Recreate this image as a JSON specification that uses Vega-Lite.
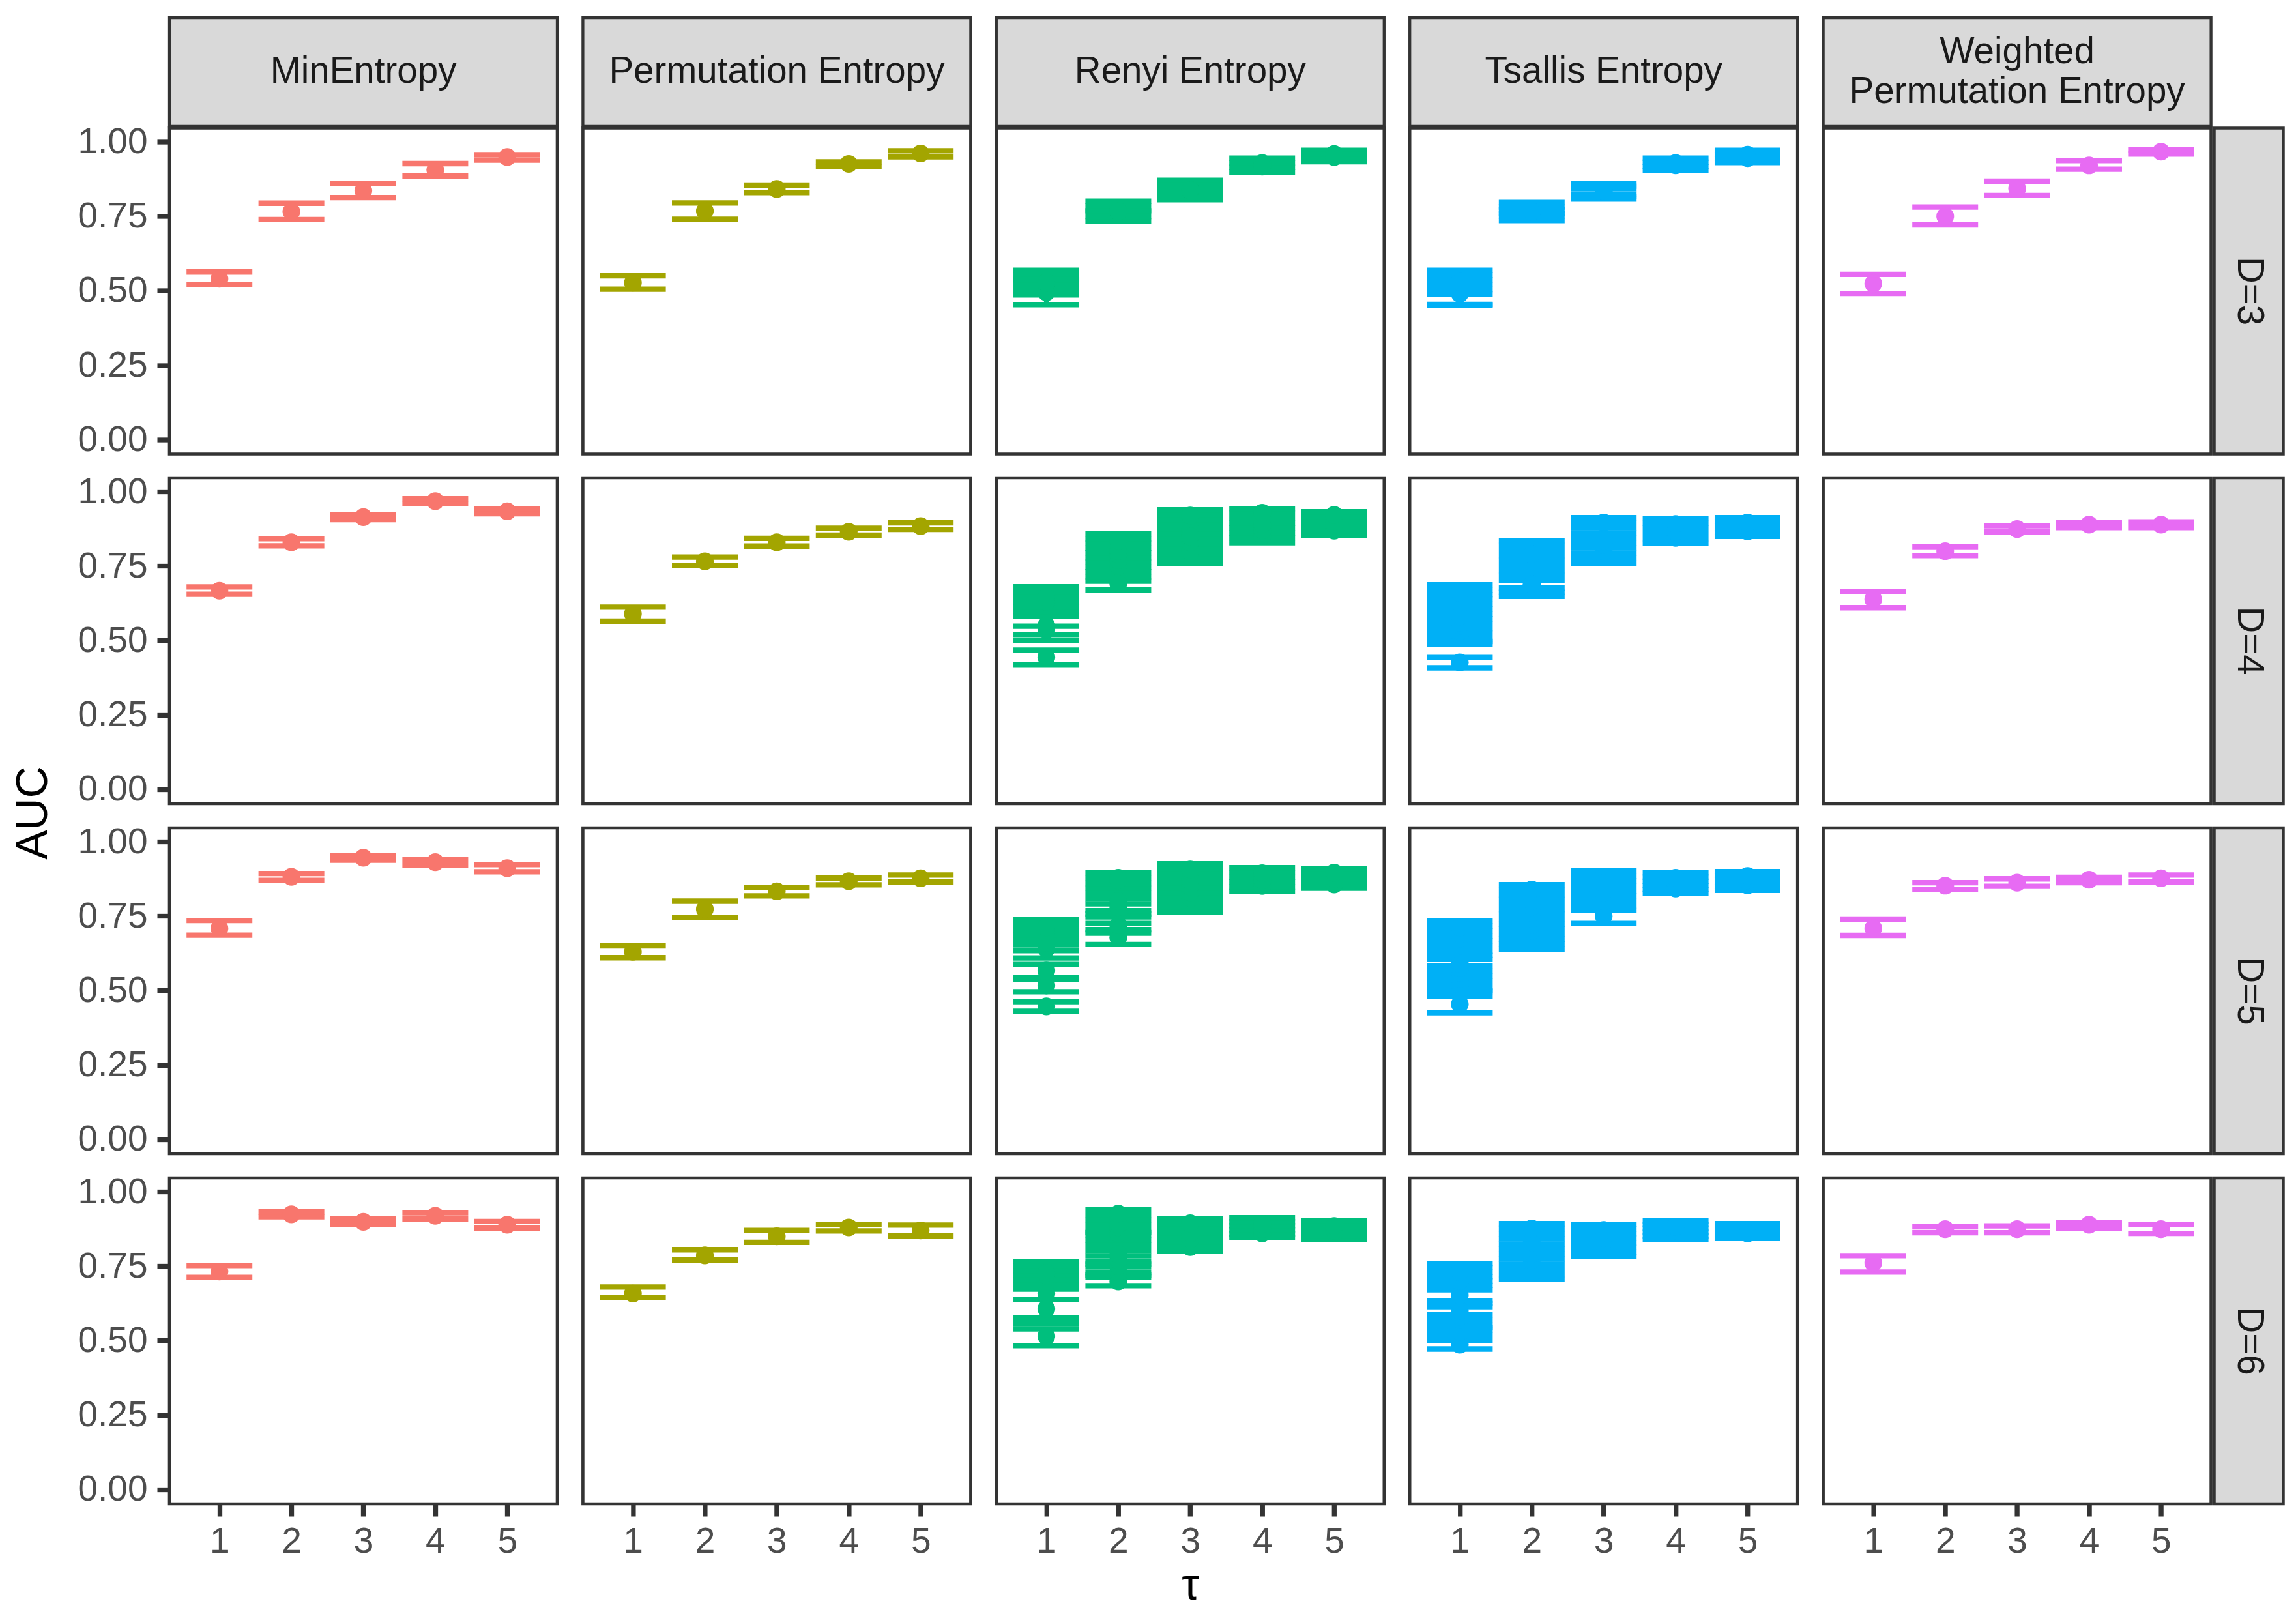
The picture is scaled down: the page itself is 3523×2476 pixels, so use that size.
{
"$schema":"https://vega.github.io/schema/vega-lite/v6.json",
"background":"white",
"padding":{"left":17,"top":24,"right":4,"bottom":0},
"title":{"text":"AUC","orient":"left","anchor":"middle","fontSize":68,"font":"Liberation Sans","fontWeight":"normal","color":"#000000","offset":31},
"config":{
 "view":{"stroke":"#333333","strokeWidth":4.6},
 "axis":{"labelFont":"Liberation Sans","labelFontSize":55,"labelColor":"#4D4D4D","tickColor":"#333333","tickWidth":7.3,"tickSize":19,"domain":false,"grid":false,"labelFlush":false,"titleFont":"Liberation Sans","titleFontSize":68,"titleFontWeight":"normal","titleColor":"#000000"},
 "axisY":{"labelPadding":15},
 "axisX":{"labelPadding":12,"titlePadding":7},
 "rule":{"strokeWidth":7.3},
 "tick":{"thickness":8.3,"opacity":1},
 "circle":{"size":740,"opacity":1},
 "text":{"font":"Liberation Sans","fontSize":56.5,"color":"#1A1A1A"}
},
"datasets":{"auc":[
{"m":"Min","D":3,"tau":1,"auc":0.540,"lo":0.520,"hi":0.563},
{"m":"Min","D":3,"tau":2,"auc":0.766,"lo":0.739,"hi":0.794},
{"m":"Min","D":3,"tau":3,"auc":0.836,"lo":0.813,"hi":0.860},
{"m":"Min","D":3,"tau":4,"auc":0.906,"lo":0.885,"hi":0.927},
{"m":"Min","D":3,"tau":5,"auc":0.949,"lo":0.939,"hi":0.957},
{"m":"Min","D":4,"tau":1,"auc":0.667,"lo":0.655,"hi":0.680},
{"m":"Min","D":4,"tau":2,"auc":0.830,"lo":0.818,"hi":0.842},
{"m":"Min","D":4,"tau":3,"auc":0.914,"lo":0.906,"hi":0.922},
{"m":"Min","D":4,"tau":4,"auc":0.968,"lo":0.960,"hi":0.976},
{"m":"Min","D":4,"tau":5,"auc":0.934,"lo":0.926,"hi":0.942},
{"m":"Min","D":5,"tau":1,"auc":0.709,"lo":0.686,"hi":0.735},
{"m":"Min","D":5,"tau":2,"auc":0.882,"lo":0.870,"hi":0.893},
{"m":"Min","D":5,"tau":3,"auc":0.946,"lo":0.938,"hi":0.953},
{"m":"Min","D":5,"tau":4,"auc":0.931,"lo":0.922,"hi":0.940},
{"m":"Min","D":5,"tau":5,"auc":0.911,"lo":0.899,"hi":0.923},
{"m":"Min","D":6,"tau":1,"auc":0.732,"lo":0.712,"hi":0.752},
{"m":"Min","D":6,"tau":2,"auc":0.924,"lo":0.916,"hi":0.932},
{"m":"Min","D":6,"tau":3,"auc":0.899,"lo":0.889,"hi":0.909},
{"m":"Min","D":6,"tau":4,"auc":0.919,"lo":0.909,"hi":0.929},
{"m":"Min","D":6,"tau":5,"auc":0.889,"lo":0.878,"hi":0.900},
{"m":"Perm","D":3,"tau":1,"auc":0.527,"lo":0.505,"hi":0.550},
{"m":"Perm","D":3,"tau":2,"auc":0.768,"lo":0.740,"hi":0.795},
{"m":"Perm","D":3,"tau":3,"auc":0.842,"lo":0.830,"hi":0.855},
{"m":"Perm","D":3,"tau":4,"auc":0.926,"lo":0.918,"hi":0.933},
{"m":"Perm","D":3,"tau":5,"auc":0.961,"lo":0.950,"hi":0.970},
{"m":"Perm","D":4,"tau":1,"auc":0.589,"lo":0.565,"hi":0.612},
{"m":"Perm","D":4,"tau":2,"auc":0.766,"lo":0.752,"hi":0.780},
{"m":"Perm","D":4,"tau":3,"auc":0.830,"lo":0.817,"hi":0.843},
{"m":"Perm","D":4,"tau":4,"auc":0.865,"lo":0.854,"hi":0.877},
{"m":"Perm","D":4,"tau":5,"auc":0.884,"lo":0.873,"hi":0.895},
{"m":"Perm","D":5,"tau":1,"auc":0.630,"lo":0.610,"hi":0.650},
{"m":"Perm","D":5,"tau":2,"auc":0.773,"lo":0.745,"hi":0.800},
{"m":"Perm","D":5,"tau":3,"auc":0.833,"lo":0.818,"hi":0.847},
{"m":"Perm","D":5,"tau":4,"auc":0.867,"lo":0.855,"hi":0.878},
{"m":"Perm","D":5,"tau":5,"auc":0.877,"lo":0.865,"hi":0.888},
{"m":"Perm","D":6,"tau":1,"auc":0.658,"lo":0.645,"hi":0.680},
{"m":"Perm","D":6,"tau":2,"auc":0.786,"lo":0.770,"hi":0.805},
{"m":"Perm","D":6,"tau":3,"auc":0.850,"lo":0.830,"hi":0.870},
{"m":"Perm","D":6,"tau":4,"auc":0.880,"lo":0.868,"hi":0.890},
{"m":"Perm","D":6,"tau":5,"auc":0.870,"lo":0.852,"hi":0.888},
{"m":"WPE","D":3,"tau":1,"auc":0.524,"lo":0.491,"hi":0.555},
{"m":"WPE","D":3,"tau":2,"auc":0.750,"lo":0.721,"hi":0.781},
{"m":"WPE","D":3,"tau":3,"auc":0.843,"lo":0.820,"hi":0.868},
{"m":"WPE","D":3,"tau":4,"auc":0.921,"lo":0.908,"hi":0.937},
{"m":"WPE","D":3,"tau":5,"auc":0.967,"lo":0.959,"hi":0.974},
{"m":"WPE","D":4,"tau":1,"auc":0.638,"lo":0.610,"hi":0.665},
{"m":"WPE","D":4,"tau":2,"auc":0.800,"lo":0.785,"hi":0.815},
{"m":"WPE","D":4,"tau":3,"auc":0.874,"lo":0.865,"hi":0.885},
{"m":"WPE","D":4,"tau":4,"auc":0.889,"lo":0.879,"hi":0.897},
{"m":"WPE","D":4,"tau":5,"auc":0.889,"lo":0.879,"hi":0.898},
{"m":"WPE","D":5,"tau":1,"auc":0.709,"lo":0.685,"hi":0.740},
{"m":"WPE","D":5,"tau":2,"auc":0.852,"lo":0.840,"hi":0.862},
{"m":"WPE","D":5,"tau":3,"auc":0.862,"lo":0.850,"hi":0.875},
{"m":"WPE","D":5,"tau":4,"auc":0.872,"lo":0.862,"hi":0.880},
{"m":"WPE","D":5,"tau":5,"auc":0.877,"lo":0.865,"hi":0.888},
{"m":"WPE","D":6,"tau":1,"auc":0.761,"lo":0.730,"hi":0.785},
{"m":"WPE","D":6,"tau":2,"auc":0.874,"lo":0.862,"hi":0.882},
{"m":"WPE","D":6,"tau":3,"auc":0.874,"lo":0.862,"hi":0.885},
{"m":"WPE","D":6,"tau":4,"auc":0.889,"lo":0.878,"hi":0.897},
{"m":"WPE","D":6,"tau":5,"auc":0.874,"lo":0.860,"hi":0.890},
{"m":"Renyi","D":3,"tau":1,"auc":0.495,"lo":0.4531,"hi":0.5365},
{"m":"Renyi","D":3,"tau":1,"auc":0.527,"lo":0.4861,"hi":0.5686},
{"m":"Renyi","D":3,"tau":1,"auc":0.527,"lo":0.5016,"hi":0.5531},
{"m":"Renyi","D":3,"tau":1,"auc":0.527,"lo":0.5200,"hi":0.5376},
{"m":"Renyi","D":3,"tau":2,"auc":0.767,"lo":0.7336,"hi":0.8007},
{"m":"Renyi","D":3,"tau":2,"auc":0.767,"lo":0.7496,"hi":0.7847},
{"m":"Renyi","D":3,"tau":2,"auc":0.767,"lo":0.7656,"hi":0.7687},
{"m":"Renyi","D":3,"tau":3,"auc":0.838,"lo":0.8058,"hi":0.8708},
{"m":"Renyi","D":3,"tau":3,"auc":0.838,"lo":0.8218,"hi":0.8548},
{"m":"Renyi","D":3,"tau":3,"auc":0.838,"lo":0.8340,"hi":0.8420},
{"m":"Renyi","D":3,"tau":4,"auc":0.929,"lo":0.8985,"hi":0.9452},
{"m":"Renyi","D":3,"tau":4,"auc":0.9167,"lo":0.9145,"hi":0.9300},
{"m":"Renyi","D":3,"tau":5,"auc":0.959,"lo":0.9336,"hi":0.9714},
{"m":"Renyi","D":3,"tau":5,"auc":0.949,"lo":0.9466,"hi":0.9586},
{"m":"Renyi","D":4,"tau":1,"auc":0.4438,"lo":0.4193,"hi":0.4671},
{"m":"Renyi","D":4,"tau":1,"auc":0.5357,"lo":0.5003,"hi":0.5975},
{"m":"Renyi","D":4,"tau":1,"auc":0.5503,"lo":0.5200,"hi":0.6126},
{"m":"Renyi","D":4,"tau":1,"auc":0.6379,"lo":0.5481,"hi":0.6459},
{"m":"Renyi","D":4,"tau":1,"auc":0.630,"lo":0.5824,"hi":0.6802},
{"m":"Renyi","D":4,"tau":1,"auc":0.645,"lo":0.6277,"hi":0.6630},
{"m":"Renyi","D":4,"tau":2,"auc":0.6912,"lo":0.6697,"hi":0.7150},
{"m":"Renyi","D":4,"tau":2,"auc":0.750,"lo":0.6992,"hi":0.7942},
{"m":"Renyi","D":4,"tau":2,"auc":0.770,"lo":0.7309,"hi":0.8101},
{"m":"Renyi","D":4,"tau":2,"auc":0.790,"lo":0.7467,"hi":0.8259},
{"m":"Renyi","D":4,"tau":2,"auc":0.800,"lo":0.7626,"hi":0.8418},
{"m":"Renyi","D":4,"tau":2,"auc":0.836,"lo":0.7784,"hi":0.8576},
{"m":"Renyi","D":4,"tau":3,"auc":0.800,"lo":0.7598,"hi":0.8736},
{"m":"Renyi","D":4,"tau":3,"auc":0.830,"lo":0.7761,"hi":0.8898},
{"m":"Renyi","D":4,"tau":3,"auc":0.850,"lo":0.7923,"hi":0.9061},
{"m":"Renyi","D":4,"tau":3,"auc":0.870,"lo":0.8086,"hi":0.9223},
{"m":"Renyi","D":4,"tau":3,"auc":0.9197,"lo":0.8248,"hi":0.9386},
{"m":"Renyi","D":4,"tau":3,"auc":0.850,"lo":0.8411,"hi":0.8573},
{"m":"Renyi","D":4,"tau":4,"auc":0.851,"lo":0.8284,"hi":0.8939},
{"m":"Renyi","D":4,"tau":4,"auc":0.870,"lo":0.8448,"hi":0.9103},
{"m":"Renyi","D":4,"tau":4,"auc":0.890,"lo":0.8612,"hi":0.9266},
{"m":"Renyi","D":4,"tau":4,"auc":0.9291,"lo":0.8775,"hi":0.9430},
{"m":"Renyi","D":4,"tau":5,"auc":0.8686,"lo":0.8518,"hi":0.9000},
{"m":"Renyi","D":4,"tau":5,"auc":0.890,"lo":0.8679,"hi":0.9161},
{"m":"Renyi","D":4,"tau":5,"auc":0.9218,"lo":0.8839,"hi":0.9321},
{"m":"Renyi","D":5,"tau":1,"auc":0.4467,"lo":0.4303,"hi":0.4627},
{"m":"Renyi","D":5,"tau":1,"auc":0.5168,"lo":0.4959,"hi":0.5445},
{"m":"Renyi","D":5,"tau":1,"auc":0.5671,"lo":0.5372,"hi":0.5875},
{"m":"Renyi","D":5,"tau":1,"auc":0.640,"lo":0.6094,"hi":0.6700},
{"m":"Renyi","D":5,"tau":1,"auc":0.660,"lo":0.6339,"hi":0.6868},
{"m":"Renyi","D":5,"tau":1,"auc":0.695,"lo":0.6532,"hi":0.7372},
{"m":"Renyi","D":5,"tau":1,"auc":0.712,"lo":0.7036,"hi":0.7204},
{"m":"Renyi","D":5,"tau":2,"auc":0.6781,"lo":0.6547,"hi":0.7043},
{"m":"Renyi","D":5,"tau":2,"auc":0.720,"lo":0.6927,"hi":0.7474},
{"m":"Renyi","D":5,"tau":2,"auc":0.760,"lo":0.7255,"hi":0.7912},
{"m":"Renyi","D":5,"tau":2,"auc":0.780,"lo":0.7576,"hi":0.8085},
{"m":"Renyi","D":5,"tau":2,"auc":0.800,"lo":0.7678,"hi":0.8257},
{"m":"Renyi","D":5,"tau":2,"auc":0.8788,"lo":0.8430,"hi":0.8948},
{"m":"Renyi","D":5,"tau":2,"auc":0.870,"lo":0.8603,"hi":0.8775},
{"m":"Renyi","D":5,"tau":3,"auc":0.7832,"lo":0.7642,"hi":0.8448},
{"m":"Renyi","D":5,"tau":3,"auc":0.810,"lo":0.7803,"hi":0.8610},
{"m":"Renyi","D":5,"tau":3,"auc":0.830,"lo":0.7964,"hi":0.8771},
{"m":"Renyi","D":5,"tau":3,"auc":0.850,"lo":0.8126,"hi":0.8932},
{"m":"Renyi","D":5,"tau":3,"auc":0.870,"lo":0.8287,"hi":0.9094},
{"m":"Renyi","D":5,"tau":3,"auc":0.9065,"lo":0.8529,"hi":0.9255},
{"m":"Renyi","D":5,"tau":4,"auc":0.851,"lo":0.8321,"hi":0.8802},
{"m":"Renyi","D":5,"tau":4,"auc":0.870,"lo":0.8481,"hi":0.8963},
{"m":"Renyi","D":5,"tau":4,"auc":0.8941,"lo":0.8642,"hi":0.9123},
{"m":"Renyi","D":5,"tau":5,"auc":0.8561,"lo":0.8437,"hi":0.8835},
{"m":"Renyi","D":5,"tau":5,"auc":0.875,"lo":0.8570,"hi":0.8968},
{"m":"Renyi","D":5,"tau":5,"auc":0.8963,"lo":0.8703,"hi":0.9101},
{"m":"Renyi","D":6,"tau":1,"auc":0.5146,"lo":0.4828,"hi":0.5394},
{"m":"Renyi","D":6,"tau":1,"auc":0.6065,"lo":0.5573,"hi":0.6383},
{"m":"Renyi","D":6,"tau":1,"auc":0.6583,"lo":0.5751,"hi":0.7038},
{"m":"Renyi","D":6,"tau":1,"auc":0.720,"lo":0.6729,"hi":0.7656},
{"m":"Renyi","D":6,"tau":1,"auc":0.720,"lo":0.6884,"hi":0.7502},
{"m":"Renyi","D":6,"tau":1,"auc":0.727,"lo":0.7193,"hi":0.7347},
{"m":"Renyi","D":6,"tau":2,"auc":0.6985,"lo":0.6843,"hi":0.7204},
{"m":"Renyi","D":6,"tau":2,"auc":0.730,"lo":0.7124,"hi":0.7565},
{"m":"Renyi","D":6,"tau":2,"auc":0.750,"lo":0.7284,"hi":0.7846},
{"m":"Renyi","D":6,"tau":2,"auc":0.770,"lo":0.7474,"hi":0.8020},
{"m":"Renyi","D":6,"tau":2,"auc":0.790,"lo":0.7656,"hi":0.8193},
{"m":"Renyi","D":6,"tau":2,"auc":0.860,"lo":0.8367,"hi":0.8888},
{"m":"Renyi","D":6,"tau":2,"auc":0.880,"lo":0.8540,"hi":0.9061},
{"m":"Renyi","D":6,"tau":2,"auc":0.890,"lo":0.8627,"hi":0.9235},
{"m":"Renyi","D":6,"tau":2,"auc":0.9262,"lo":0.8714,"hi":0.9408},
{"m":"Renyi","D":6,"tau":3,"auc":0.8138,"lo":0.7992,"hi":0.8614},
{"m":"Renyi","D":6,"tau":3,"auc":0.840,"lo":0.8147,"hi":0.8769},
{"m":"Renyi","D":6,"tau":3,"auc":0.860,"lo":0.8303,"hi":0.8925},
{"m":"Renyi","D":6,"tau":3,"auc":0.8941,"lo":0.8458,"hi":0.9080},
{"m":"Renyi","D":6,"tau":4,"auc":0.8598,"lo":0.8452,"hi":0.8855},
{"m":"Renyi","D":6,"tau":4,"auc":0.875,"lo":0.8586,"hi":0.8989},
{"m":"Renyi","D":6,"tau":4,"auc":0.8919,"lo":0.8720,"hi":0.9123},
{"m":"Renyi","D":6,"tau":5,"auc":0.862,"lo":0.8394,"hi":0.8779},
{"m":"Renyi","D":6,"tau":5,"auc":0.870,"lo":0.8522,"hi":0.8908},
{"m":"Renyi","D":6,"tau":5,"auc":0.8846,"lo":0.8651,"hi":0.9036},
{"m":"Tsallis","D":3,"tau":1,"auc":0.4941,"lo":0.4507,"hi":0.5365},
{"m":"Tsallis","D":3,"tau":1,"auc":0.490,"lo":0.4540,"hi":0.5204},
{"m":"Tsallis","D":3,"tau":1,"auc":0.530,"lo":0.4883,"hi":0.5686},
{"m":"Tsallis","D":3,"tau":1,"auc":0.530,"lo":0.5044,"hi":0.5525},
{"m":"Tsallis","D":3,"tau":2,"auc":0.766,"lo":0.7358,"hi":0.7963},
{"m":"Tsallis","D":3,"tau":2,"auc":0.766,"lo":0.7509,"hi":0.7812},
{"m":"Tsallis","D":3,"tau":2,"auc":0.766,"lo":0.7600,"hi":0.7720},
{"m":"Tsallis","D":3,"tau":3,"auc":0.834,"lo":0.8080,"hi":0.8598},
{"m":"Tsallis","D":3,"tau":3,"auc":0.834,"lo":0.8164,"hi":0.8514},
{"m":"Tsallis","D":3,"tau":3,"auc":0.834,"lo":0.8248,"hi":0.8430},
{"m":"Tsallis","D":3,"tau":4,"auc":0.9292,"lo":0.9044,"hi":0.9452},
{"m":"Tsallis","D":3,"tau":4,"auc":0.9211,"lo":0.9180,"hi":0.9316},
{"m":"Tsallis","D":3,"tau":5,"auc":0.9569,"lo":0.9306,"hi":0.9714},
{"m":"Tsallis","D":3,"tau":5,"auc":0.9452,"lo":0.9442,"hi":0.9578},
{"m":"Tsallis","D":4,"tau":1,"auc":0.4262,"lo":0.4080,"hi":0.4430},
{"m":"Tsallis","D":4,"tau":1,"auc":0.520,"lo":0.4883,"hi":0.5566},
{"m":"Tsallis","D":4,"tau":1,"auc":0.530,"lo":0.4967,"hi":0.5728},
{"m":"Tsallis","D":4,"tau":1,"auc":0.550,"lo":0.5051,"hi":0.5891},
{"m":"Tsallis","D":4,"tau":1,"auc":0.560,"lo":0.5240,"hi":0.6054},
{"m":"Tsallis","D":4,"tau":1,"auc":0.580,"lo":0.5403,"hi":0.6217},
{"m":"Tsallis","D":4,"tau":1,"auc":0.660,"lo":0.6380,"hi":0.6868},
{"m":"Tsallis","D":4,"tau":1,"auc":0.660,"lo":0.6542,"hi":0.6705},
{"m":"Tsallis","D":4,"tau":2,"auc":0.689,"lo":0.6481,"hi":0.7350},
{"m":"Tsallis","D":4,"tau":2,"auc":0.689,"lo":0.6620,"hi":0.7182},
{"m":"Tsallis","D":4,"tau":2,"auc":0.689,"lo":0.6759,"hi":0.7014},
{"m":"Tsallis","D":4,"tau":2,"auc":0.790,"lo":0.7518,"hi":0.8357},
{"m":"Tsallis","D":4,"tau":2,"auc":0.790,"lo":0.7685,"hi":0.8189},
{"m":"Tsallis","D":4,"tau":2,"auc":0.790,"lo":0.7853,"hi":0.8021},
{"m":"Tsallis","D":4,"tau":3,"auc":0.800,"lo":0.7598,"hi":0.8615},
{"m":"Tsallis","D":4,"tau":3,"auc":0.820,"lo":0.7767,"hi":0.8784},
{"m":"Tsallis","D":4,"tau":3,"auc":0.840,"lo":0.7937,"hi":0.8954},
{"m":"Tsallis","D":4,"tau":3,"auc":0.8963,"lo":0.8106,"hi":0.9123},
{"m":"Tsallis","D":4,"tau":3,"auc":0.836,"lo":0.8276,"hi":0.8445},
{"m":"Tsallis","D":4,"tau":4,"auc":0.8445,"lo":0.8255,"hi":0.8763},
{"m":"Tsallis","D":4,"tau":4,"auc":0.865,"lo":0.8424,"hi":0.8932},
{"m":"Tsallis","D":4,"tau":4,"auc":0.8912,"lo":0.8593,"hi":0.9101},
{"m":"Tsallis","D":4,"tau":5,"auc":0.8664,"lo":0.8496,"hi":0.8872},
{"m":"Tsallis","D":4,"tau":5,"auc":0.880,"lo":0.8621,"hi":0.8998},
{"m":"Tsallis","D":4,"tau":5,"auc":0.8963,"lo":0.8747,"hi":0.9123},
{"m":"Tsallis","D":5,"tau":1,"auc":0.454,"lo":0.4255,"hi":0.4965},
{"m":"Tsallis","D":5,"tau":1,"auc":0.520,"lo":0.4795,"hi":0.5647},
{"m":"Tsallis","D":5,"tau":1,"auc":0.540,"lo":0.5000,"hi":0.5817},
{"m":"Tsallis","D":5,"tau":1,"auc":0.560,"lo":0.5136,"hi":0.6043},
{"m":"Tsallis","D":5,"tau":1,"auc":0.575,"lo":0.5306,"hi":0.6182},
{"m":"Tsallis","D":5,"tau":1,"auc":0.590,"lo":0.5476,"hi":0.6321},
{"m":"Tsallis","D":5,"tau":1,"auc":0.675,"lo":0.6510,"hi":0.7001},
{"m":"Tsallis","D":5,"tau":1,"auc":0.690,"lo":0.6674,"hi":0.7164},
{"m":"Tsallis","D":5,"tau":1,"auc":0.7116,"lo":0.6837,"hi":0.7328},
{"m":"Tsallis","D":5,"tau":2,"auc":0.700,"lo":0.6394,"hi":0.7557},
{"m":"Tsallis","D":5,"tau":2,"auc":0.720,"lo":0.6560,"hi":0.7723},
{"m":"Tsallis","D":5,"tau":2,"auc":0.740,"lo":0.6726,"hi":0.7889},
{"m":"Tsallis","D":5,"tau":2,"auc":0.760,"lo":0.6892,"hi":0.8056},
{"m":"Tsallis","D":5,"tau":2,"auc":0.780,"lo":0.7059,"hi":0.8222},
{"m":"Tsallis","D":5,"tau":2,"auc":0.800,"lo":0.7225,"hi":0.8388},
{"m":"Tsallis","D":5,"tau":2,"auc":0.8394,"lo":0.7391,"hi":0.8554},
{"m":"Tsallis","D":5,"tau":3,"auc":0.7503,"lo":0.7255,"hi":0.7852},
{"m":"Tsallis","D":5,"tau":3,"auc":0.800,"lo":0.7686,"hi":0.8516},
{"m":"Tsallis","D":5,"tau":3,"auc":0.830,"lo":0.8018,"hi":0.8682},
{"m":"Tsallis","D":5,"tau":3,"auc":0.881,"lo":0.8184,"hi":0.9014},
{"m":"Tsallis","D":5,"tau":3,"auc":0.860,"lo":0.8350,"hi":0.8848},
{"m":"Tsallis","D":5,"tau":4,"auc":0.8423,"lo":0.8255,"hi":0.8671},
{"m":"Tsallis","D":5,"tau":4,"auc":0.860,"lo":0.8394,"hi":0.8809},
{"m":"Tsallis","D":5,"tau":4,"auc":0.8788,"lo":0.8532,"hi":0.8948},
{"m":"Tsallis","D":5,"tau":5,"auc":0.8532,"lo":0.8364,"hi":0.8741},
{"m":"Tsallis","D":5,"tau":5,"auc":0.870,"lo":0.8490,"hi":0.8866},
{"m":"Tsallis","D":5,"tau":5,"auc":0.8846,"lo":0.8615,"hi":0.8992},
{"m":"Tsallis","D":6,"tau":1,"auc":0.4861,"lo":0.4715,"hi":0.5172},
{"m":"Tsallis","D":6,"tau":1,"auc":0.530,"lo":0.5000,"hi":0.5689},
{"m":"Tsallis","D":6,"tau":1,"auc":0.570,"lo":0.5344,"hi":0.6138},
{"m":"Tsallis","D":6,"tau":1,"auc":0.580,"lo":0.5430,"hi":0.6240},
{"m":"Tsallis","D":6,"tau":1,"auc":0.600,"lo":0.5517,"hi":0.6343},
{"m":"Tsallis","D":6,"tau":1,"auc":0.6525,"lo":0.5861,"hi":0.6855},
{"m":"Tsallis","D":6,"tau":1,"auc":0.700,"lo":0.6708,"hi":0.7297},
{"m":"Tsallis","D":6,"tau":1,"auc":0.730,"lo":0.7002,"hi":0.7591},
{"m":"Tsallis","D":6,"tau":1,"auc":0.730,"lo":0.7150,"hi":0.7444},
{"m":"Tsallis","D":6,"tau":2,"auc":0.7262,"lo":0.7051,"hi":0.8074},
{"m":"Tsallis","D":6,"tau":2,"auc":0.770,"lo":0.7221,"hi":0.8244},
{"m":"Tsallis","D":6,"tau":2,"auc":0.790,"lo":0.7392,"hi":0.8415},
{"m":"Tsallis","D":6,"tau":2,"auc":0.810,"lo":0.7562,"hi":0.8585},
{"m":"Tsallis","D":6,"tau":2,"auc":0.830,"lo":0.7733,"hi":0.8756},
{"m":"Tsallis","D":6,"tau":2,"auc":0.8766,"lo":0.7903,"hi":0.8926},
{"m":"Tsallis","D":6,"tau":3,"auc":0.810,"lo":0.7817,"hi":0.8439},
{"m":"Tsallis","D":6,"tau":3,"auc":0.830,"lo":0.7972,"hi":0.8594},
{"m":"Tsallis","D":6,"tau":3,"auc":0.845,"lo":0.8128,"hi":0.8750},
{"m":"Tsallis","D":6,"tau":3,"auc":0.8715,"lo":0.8283,"hi":0.8905},
{"m":"Tsallis","D":6,"tau":4,"auc":0.860,"lo":0.8386,"hi":0.8763},
{"m":"Tsallis","D":6,"tau":4,"auc":0.870,"lo":0.8512,"hi":0.8888},
{"m":"Tsallis","D":6,"tau":4,"auc":0.8824,"lo":0.8637,"hi":0.9014},
{"m":"Tsallis","D":6,"tau":5,"auc":0.8715,"lo":0.8430,"hi":0.8926},
{"m":"Tsallis","D":6,"tau":5,"auc":0.8598,"lo":0.8595,"hi":0.8761}
]},
"spacing":19,
"vconcat":[
{"spacing":33.4,"hconcat":[
 {"bounds":"flush","spacing":3.5,"vconcat":[
  {"width":595,"height":166,"view":{"fill":"#D9D9D9","stroke":"#333333","strokeWidth":4.3},"data":{"values":[{"label":"MinEntropy"}]},"mark":{"type":"text"},"encoding":{"text":{"field":"label"}}},
  {"width":595,"height":500,"data":{"name":"auc"},"transform":[{"filter":"datum.m=='Min'&&datum.D==3"}],
   "encoding":{"x":{"field":"tau","type":"quantitative","scale":{"domain":[0.305,5.695],"nice":false,"zero":false},"axis":null},"y":{"field":"auc","type":"quantitative","scale":{"domain":[-0.0486,1.0464],"nice":false,"zero":false},"axis":{"values":[0,0.25,0.5,0.75,1],"format":".2f","title":null}}},
   "layer":[{"mark":{"type":"rule","color":"#F8766D"},"encoding":{"y":{"field":"lo","type":"quantitative","axis":{"values":[0,0.25,0.5,0.75,1],"format":".2f","title":null}},"y2":{"field":"hi"}}},{"mark":{"type":"tick","orient":"horizontal","size":101,"color":"#F8766D"},"encoding":{"y":{"field":"lo","type":"quantitative","axis":{"values":[0,0.25,0.5,0.75,1],"format":".2f","title":null}}}},{"mark":{"type":"tick","orient":"horizontal","size":101,"color":"#F8766D"},"encoding":{"y":{"field":"hi","type":"quantitative","axis":{"values":[0,0.25,0.5,0.75,1],"format":".2f","title":null}}}},{"mark":{"type":"circle","color":"#F8766D"}}]}
 ]},
 {"bounds":"flush","spacing":3.5,"vconcat":[
  {"width":595,"height":166,"view":{"fill":"#D9D9D9","stroke":"#333333","strokeWidth":4.3},"data":{"values":[{"label":"Permutation Entropy"}]},"mark":{"type":"text"},"encoding":{"text":{"field":"label"}}},
  {"width":595,"height":500,"data":{"name":"auc"},"transform":[{"filter":"datum.m=='Perm'&&datum.D==3"}],
   "encoding":{"x":{"field":"tau","type":"quantitative","scale":{"domain":[0.305,5.695],"nice":false,"zero":false},"axis":null},"y":{"field":"auc","type":"quantitative","scale":{"domain":[-0.0486,1.0464],"nice":false,"zero":false},"axis":null}},
   "layer":[{"mark":{"type":"rule","color":"#A3A500"},"encoding":{"y":{"field":"lo","type":"quantitative","axis":null},"y2":{"field":"hi"}}},{"mark":{"type":"tick","orient":"horizontal","size":101,"color":"#A3A500"},"encoding":{"y":{"field":"lo","type":"quantitative","axis":null}}},{"mark":{"type":"tick","orient":"horizontal","size":101,"color":"#A3A500"},"encoding":{"y":{"field":"hi","type":"quantitative","axis":null}}},{"mark":{"type":"circle","color":"#A3A500"}}]}
 ]},
 {"bounds":"flush","spacing":3.5,"vconcat":[
  {"width":595,"height":166,"view":{"fill":"#D9D9D9","stroke":"#333333","strokeWidth":4.3},"data":{"values":[{"label":"Renyi Entropy"}]},"mark":{"type":"text"},"encoding":{"text":{"field":"label"}}},
  {"width":595,"height":500,"data":{"name":"auc"},"transform":[{"filter":"datum.m=='Renyi'&&datum.D==3"}],
   "encoding":{"x":{"field":"tau","type":"quantitative","scale":{"domain":[0.305,5.695],"nice":false,"zero":false},"axis":null},"y":{"field":"auc","type":"quantitative","scale":{"domain":[-0.0486,1.0464],"nice":false,"zero":false},"axis":null}},
   "layer":[{"mark":{"type":"rule","color":"#00BF7D"},"encoding":{"y":{"field":"lo","type":"quantitative","axis":null},"y2":{"field":"hi"}}},{"mark":{"type":"tick","orient":"horizontal","size":101,"color":"#00BF7D"},"encoding":{"y":{"field":"lo","type":"quantitative","axis":null}}},{"mark":{"type":"tick","orient":"horizontal","size":101,"color":"#00BF7D"},"encoding":{"y":{"field":"hi","type":"quantitative","axis":null}}},{"mark":{"type":"circle","color":"#00BF7D"}}]}
 ]},
 {"bounds":"flush","spacing":3.5,"vconcat":[
  {"width":595,"height":166,"view":{"fill":"#D9D9D9","stroke":"#333333","strokeWidth":4.3},"data":{"values":[{"label":"Tsallis Entropy"}]},"mark":{"type":"text"},"encoding":{"text":{"field":"label"}}},
  {"width":595,"height":500,"data":{"name":"auc"},"transform":[{"filter":"datum.m=='Tsallis'&&datum.D==3"}],
   "encoding":{"x":{"field":"tau","type":"quantitative","scale":{"domain":[0.305,5.695],"nice":false,"zero":false},"axis":null},"y":{"field":"auc","type":"quantitative","scale":{"domain":[-0.0486,1.0464],"nice":false,"zero":false},"axis":null}},
   "layer":[{"mark":{"type":"rule","color":"#00B0F6"},"encoding":{"y":{"field":"lo","type":"quantitative","axis":null},"y2":{"field":"hi"}}},{"mark":{"type":"tick","orient":"horizontal","size":101,"color":"#00B0F6"},"encoding":{"y":{"field":"lo","type":"quantitative","axis":null}}},{"mark":{"type":"tick","orient":"horizontal","size":101,"color":"#00B0F6"},"encoding":{"y":{"field":"hi","type":"quantitative","axis":null}}},{"mark":{"type":"circle","color":"#00B0F6"}}]}
 ]},
 {"bounds":"flush","spacing":3.5,"vconcat":[
  {"width":595,"height":166,"view":{"fill":"#D9D9D9","stroke":"#333333","strokeWidth":4.3},"data":{"values":[{"label":"Weighted Permutation Entropy"}]},"mark":{"type":"text","lineHeight":61,"dy":-30},"encoding":{"text":{"value":["Weighted","Permutation Entropy"]}}},
  {"spacing":-1,"hconcat":[
   {"width":595,"height":500,"data":{"name":"auc"},"transform":[{"filter":"datum.m=='WPE'&&datum.D==3"}],
    "encoding":{"x":{"field":"tau","type":"quantitative","scale":{"domain":[0.305,5.695],"nice":false,"zero":false},"axis":null},"y":{"field":"auc","type":"quantitative","scale":{"domain":[-0.0486,1.0464],"nice":false,"zero":false},"axis":null}},
    "layer":[{"mark":{"type":"rule","color":"#E76BF3"},"encoding":{"y":{"field":"lo","type":"quantitative","axis":null},"y2":{"field":"hi"}}},{"mark":{"type":"tick","orient":"horizontal","size":101,"color":"#E76BF3"},"encoding":{"y":{"field":"lo","type":"quantitative","axis":null}}},{"mark":{"type":"tick","orient":"horizontal","size":101,"color":"#E76BF3"},"encoding":{"y":{"field":"hi","type":"quantitative","axis":null}}},{"mark":{"type":"circle","color":"#E76BF3"}}]},
   {"width":106,"height":500,"view":{"fill":"#D9D9D9","stroke":"#333333","strokeWidth":4.3},"data":{"values":[{"label":"D=3"}]},"mark":{"type":"text","angle":90},"encoding":{"text":{"field":"label"}}}
  ]}
 ]}
]},
{"spacing":33.4,"hconcat":[
  {"width":595,"height":500,"data":{"name":"auc"},"transform":[{"filter":"datum.m=='Min'&&datum.D==4"}],
   "encoding":{"x":{"field":"tau","type":"quantitative","scale":{"domain":[0.305,5.695],"nice":false,"zero":false},"axis":null},"y":{"field":"auc","type":"quantitative","scale":{"domain":[-0.0486,1.0464],"nice":false,"zero":false},"axis":{"values":[0,0.25,0.5,0.75,1],"format":".2f","title":null}}},
   "layer":[{"mark":{"type":"rule","color":"#F8766D"},"encoding":{"y":{"field":"lo","type":"quantitative","axis":{"values":[0,0.25,0.5,0.75,1],"format":".2f","title":null}},"y2":{"field":"hi"}}},{"mark":{"type":"tick","orient":"horizontal","size":101,"color":"#F8766D"},"encoding":{"y":{"field":"lo","type":"quantitative","axis":{"values":[0,0.25,0.5,0.75,1],"format":".2f","title":null}}}},{"mark":{"type":"tick","orient":"horizontal","size":101,"color":"#F8766D"},"encoding":{"y":{"field":"hi","type":"quantitative","axis":{"values":[0,0.25,0.5,0.75,1],"format":".2f","title":null}}}},{"mark":{"type":"circle","color":"#F8766D"}}]},
  {"width":595,"height":500,"data":{"name":"auc"},"transform":[{"filter":"datum.m=='Perm'&&datum.D==4"}],
   "encoding":{"x":{"field":"tau","type":"quantitative","scale":{"domain":[0.305,5.695],"nice":false,"zero":false},"axis":null},"y":{"field":"auc","type":"quantitative","scale":{"domain":[-0.0486,1.0464],"nice":false,"zero":false},"axis":null}},
   "layer":[{"mark":{"type":"rule","color":"#A3A500"},"encoding":{"y":{"field":"lo","type":"quantitative","axis":null},"y2":{"field":"hi"}}},{"mark":{"type":"tick","orient":"horizontal","size":101,"color":"#A3A500"},"encoding":{"y":{"field":"lo","type":"quantitative","axis":null}}},{"mark":{"type":"tick","orient":"horizontal","size":101,"color":"#A3A500"},"encoding":{"y":{"field":"hi","type":"quantitative","axis":null}}},{"mark":{"type":"circle","color":"#A3A500"}}]},
  {"width":595,"height":500,"data":{"name":"auc"},"transform":[{"filter":"datum.m=='Renyi'&&datum.D==4"}],
   "encoding":{"x":{"field":"tau","type":"quantitative","scale":{"domain":[0.305,5.695],"nice":false,"zero":false},"axis":null},"y":{"field":"auc","type":"quantitative","scale":{"domain":[-0.0486,1.0464],"nice":false,"zero":false},"axis":null}},
   "layer":[{"mark":{"type":"rule","color":"#00BF7D"},"encoding":{"y":{"field":"lo","type":"quantitative","axis":null},"y2":{"field":"hi"}}},{"mark":{"type":"tick","orient":"horizontal","size":101,"color":"#00BF7D"},"encoding":{"y":{"field":"lo","type":"quantitative","axis":null}}},{"mark":{"type":"tick","orient":"horizontal","size":101,"color":"#00BF7D"},"encoding":{"y":{"field":"hi","type":"quantitative","axis":null}}},{"mark":{"type":"circle","color":"#00BF7D"}}]},
  {"width":595,"height":500,"data":{"name":"auc"},"transform":[{"filter":"datum.m=='Tsallis'&&datum.D==4"}],
   "encoding":{"x":{"field":"tau","type":"quantitative","scale":{"domain":[0.305,5.695],"nice":false,"zero":false},"axis":null},"y":{"field":"auc","type":"quantitative","scale":{"domain":[-0.0486,1.0464],"nice":false,"zero":false},"axis":null}},
   "layer":[{"mark":{"type":"rule","color":"#00B0F6"},"encoding":{"y":{"field":"lo","type":"quantitative","axis":null},"y2":{"field":"hi"}}},{"mark":{"type":"tick","orient":"horizontal","size":101,"color":"#00B0F6"},"encoding":{"y":{"field":"lo","type":"quantitative","axis":null}}},{"mark":{"type":"tick","orient":"horizontal","size":101,"color":"#00B0F6"},"encoding":{"y":{"field":"hi","type":"quantitative","axis":null}}},{"mark":{"type":"circle","color":"#00B0F6"}}]},
  {"spacing":-1,"hconcat":[
   {"width":595,"height":500,"data":{"name":"auc"},"transform":[{"filter":"datum.m=='WPE'&&datum.D==4"}],
    "encoding":{"x":{"field":"tau","type":"quantitative","scale":{"domain":[0.305,5.695],"nice":false,"zero":false},"axis":null},"y":{"field":"auc","type":"quantitative","scale":{"domain":[-0.0486,1.0464],"nice":false,"zero":false},"axis":null}},
    "layer":[{"mark":{"type":"rule","color":"#E76BF3"},"encoding":{"y":{"field":"lo","type":"quantitative","axis":null},"y2":{"field":"hi"}}},{"mark":{"type":"tick","orient":"horizontal","size":101,"color":"#E76BF3"},"encoding":{"y":{"field":"lo","type":"quantitative","axis":null}}},{"mark":{"type":"tick","orient":"horizontal","size":101,"color":"#E76BF3"},"encoding":{"y":{"field":"hi","type":"quantitative","axis":null}}},{"mark":{"type":"circle","color":"#E76BF3"}}]},
   {"width":106,"height":500,"view":{"fill":"#D9D9D9","stroke":"#333333","strokeWidth":4.3},"data":{"values":[{"label":"D=4"}]},"mark":{"type":"text","angle":90},"encoding":{"text":{"field":"label"}}}
  ]}
]},
{"spacing":33.4,"hconcat":[
  {"width":595,"height":500,"data":{"name":"auc"},"transform":[{"filter":"datum.m=='Min'&&datum.D==5"}],
   "encoding":{"x":{"field":"tau","type":"quantitative","scale":{"domain":[0.305,5.695],"nice":false,"zero":false},"axis":null},"y":{"field":"auc","type":"quantitative","scale":{"domain":[-0.0486,1.0464],"nice":false,"zero":false},"axis":{"values":[0,0.25,0.5,0.75,1],"format":".2f","title":null}}},
   "layer":[{"mark":{"type":"rule","color":"#F8766D"},"encoding":{"y":{"field":"lo","type":"quantitative","axis":{"values":[0,0.25,0.5,0.75,1],"format":".2f","title":null}},"y2":{"field":"hi"}}},{"mark":{"type":"tick","orient":"horizontal","size":101,"color":"#F8766D"},"encoding":{"y":{"field":"lo","type":"quantitative","axis":{"values":[0,0.25,0.5,0.75,1],"format":".2f","title":null}}}},{"mark":{"type":"tick","orient":"horizontal","size":101,"color":"#F8766D"},"encoding":{"y":{"field":"hi","type":"quantitative","axis":{"values":[0,0.25,0.5,0.75,1],"format":".2f","title":null}}}},{"mark":{"type":"circle","color":"#F8766D"}}]},
  {"width":595,"height":500,"data":{"name":"auc"},"transform":[{"filter":"datum.m=='Perm'&&datum.D==5"}],
   "encoding":{"x":{"field":"tau","type":"quantitative","scale":{"domain":[0.305,5.695],"nice":false,"zero":false},"axis":null},"y":{"field":"auc","type":"quantitative","scale":{"domain":[-0.0486,1.0464],"nice":false,"zero":false},"axis":null}},
   "layer":[{"mark":{"type":"rule","color":"#A3A500"},"encoding":{"y":{"field":"lo","type":"quantitative","axis":null},"y2":{"field":"hi"}}},{"mark":{"type":"tick","orient":"horizontal","size":101,"color":"#A3A500"},"encoding":{"y":{"field":"lo","type":"quantitative","axis":null}}},{"mark":{"type":"tick","orient":"horizontal","size":101,"color":"#A3A500"},"encoding":{"y":{"field":"hi","type":"quantitative","axis":null}}},{"mark":{"type":"circle","color":"#A3A500"}}]},
  {"width":595,"height":500,"data":{"name":"auc"},"transform":[{"filter":"datum.m=='Renyi'&&datum.D==5"}],
   "encoding":{"x":{"field":"tau","type":"quantitative","scale":{"domain":[0.305,5.695],"nice":false,"zero":false},"axis":null},"y":{"field":"auc","type":"quantitative","scale":{"domain":[-0.0486,1.0464],"nice":false,"zero":false},"axis":null}},
   "layer":[{"mark":{"type":"rule","color":"#00BF7D"},"encoding":{"y":{"field":"lo","type":"quantitative","axis":null},"y2":{"field":"hi"}}},{"mark":{"type":"tick","orient":"horizontal","size":101,"color":"#00BF7D"},"encoding":{"y":{"field":"lo","type":"quantitative","axis":null}}},{"mark":{"type":"tick","orient":"horizontal","size":101,"color":"#00BF7D"},"encoding":{"y":{"field":"hi","type":"quantitative","axis":null}}},{"mark":{"type":"circle","color":"#00BF7D"}}]},
  {"width":595,"height":500,"data":{"name":"auc"},"transform":[{"filter":"datum.m=='Tsallis'&&datum.D==5"}],
   "encoding":{"x":{"field":"tau","type":"quantitative","scale":{"domain":[0.305,5.695],"nice":false,"zero":false},"axis":null},"y":{"field":"auc","type":"quantitative","scale":{"domain":[-0.0486,1.0464],"nice":false,"zero":false},"axis":null}},
   "layer":[{"mark":{"type":"rule","color":"#00B0F6"},"encoding":{"y":{"field":"lo","type":"quantitative","axis":null},"y2":{"field":"hi"}}},{"mark":{"type":"tick","orient":"horizontal","size":101,"color":"#00B0F6"},"encoding":{"y":{"field":"lo","type":"quantitative","axis":null}}},{"mark":{"type":"tick","orient":"horizontal","size":101,"color":"#00B0F6"},"encoding":{"y":{"field":"hi","type":"quantitative","axis":null}}},{"mark":{"type":"circle","color":"#00B0F6"}}]},
  {"spacing":-1,"hconcat":[
   {"width":595,"height":500,"data":{"name":"auc"},"transform":[{"filter":"datum.m=='WPE'&&datum.D==5"}],
    "encoding":{"x":{"field":"tau","type":"quantitative","scale":{"domain":[0.305,5.695],"nice":false,"zero":false},"axis":null},"y":{"field":"auc","type":"quantitative","scale":{"domain":[-0.0486,1.0464],"nice":false,"zero":false},"axis":null}},
    "layer":[{"mark":{"type":"rule","color":"#E76BF3"},"encoding":{"y":{"field":"lo","type":"quantitative","axis":null},"y2":{"field":"hi"}}},{"mark":{"type":"tick","orient":"horizontal","size":101,"color":"#E76BF3"},"encoding":{"y":{"field":"lo","type":"quantitative","axis":null}}},{"mark":{"type":"tick","orient":"horizontal","size":101,"color":"#E76BF3"},"encoding":{"y":{"field":"hi","type":"quantitative","axis":null}}},{"mark":{"type":"circle","color":"#E76BF3"}}]},
   {"width":106,"height":500,"view":{"fill":"#D9D9D9","stroke":"#333333","strokeWidth":4.3},"data":{"values":[{"label":"D=5"}]},"mark":{"type":"text","angle":90},"encoding":{"text":{"field":"label"}}}
  ]}
]},
{"spacing":33.4,"hconcat":[
  {"width":595,"height":500,"data":{"name":"auc"},"transform":[{"filter":"datum.m=='Min'&&datum.D==6"}],
   "encoding":{"x":{"field":"tau","type":"quantitative","scale":{"domain":[0.305,5.695],"nice":false,"zero":false},"axis":{"values":[1,2,3,4,5],"format":"d","title":null}},"y":{"field":"auc","type":"quantitative","scale":{"domain":[-0.0486,1.0464],"nice":false,"zero":false},"axis":{"values":[0,0.25,0.5,0.75,1],"format":".2f","title":null}}},
   "layer":[{"mark":{"type":"rule","color":"#F8766D"},"encoding":{"y":{"field":"lo","type":"quantitative","axis":{"values":[0,0.25,0.5,0.75,1],"format":".2f","title":null}},"y2":{"field":"hi"}}},{"mark":{"type":"tick","orient":"horizontal","size":101,"color":"#F8766D"},"encoding":{"y":{"field":"lo","type":"quantitative","axis":{"values":[0,0.25,0.5,0.75,1],"format":".2f","title":null}}}},{"mark":{"type":"tick","orient":"horizontal","size":101,"color":"#F8766D"},"encoding":{"y":{"field":"hi","type":"quantitative","axis":{"values":[0,0.25,0.5,0.75,1],"format":".2f","title":null}}}},{"mark":{"type":"circle","color":"#F8766D"}}]},
  {"width":595,"height":500,"data":{"name":"auc"},"transform":[{"filter":"datum.m=='Perm'&&datum.D==6"}],
   "encoding":{"x":{"field":"tau","type":"quantitative","scale":{"domain":[0.305,5.695],"nice":false,"zero":false},"axis":{"values":[1,2,3,4,5],"format":"d","title":null}},"y":{"field":"auc","type":"quantitative","scale":{"domain":[-0.0486,1.0464],"nice":false,"zero":false},"axis":null}},
   "layer":[{"mark":{"type":"rule","color":"#A3A500"},"encoding":{"y":{"field":"lo","type":"quantitative","axis":null},"y2":{"field":"hi"}}},{"mark":{"type":"tick","orient":"horizontal","size":101,"color":"#A3A500"},"encoding":{"y":{"field":"lo","type":"quantitative","axis":null}}},{"mark":{"type":"tick","orient":"horizontal","size":101,"color":"#A3A500"},"encoding":{"y":{"field":"hi","type":"quantitative","axis":null}}},{"mark":{"type":"circle","color":"#A3A500"}}]},
  {"width":595,"height":500,"data":{"name":"auc"},"transform":[{"filter":"datum.m=='Renyi'&&datum.D==6"}],
   "encoding":{"x":{"field":"tau","type":"quantitative","scale":{"domain":[0.305,5.695],"nice":false,"zero":false},"axis":{"values":[1,2,3,4,5],"format":"d","title":"τ"}},"y":{"field":"auc","type":"quantitative","scale":{"domain":[-0.0486,1.0464],"nice":false,"zero":false},"axis":null}},
   "layer":[{"mark":{"type":"rule","color":"#00BF7D"},"encoding":{"y":{"field":"lo","type":"quantitative","axis":null},"y2":{"field":"hi"}}},{"mark":{"type":"tick","orient":"horizontal","size":101,"color":"#00BF7D"},"encoding":{"y":{"field":"lo","type":"quantitative","axis":null}}},{"mark":{"type":"tick","orient":"horizontal","size":101,"color":"#00BF7D"},"encoding":{"y":{"field":"hi","type":"quantitative","axis":null}}},{"mark":{"type":"circle","color":"#00BF7D"}}]},
  {"width":595,"height":500,"data":{"name":"auc"},"transform":[{"filter":"datum.m=='Tsallis'&&datum.D==6"}],
   "encoding":{"x":{"field":"tau","type":"quantitative","scale":{"domain":[0.305,5.695],"nice":false,"zero":false},"axis":{"values":[1,2,3,4,5],"format":"d","title":null}},"y":{"field":"auc","type":"quantitative","scale":{"domain":[-0.0486,1.0464],"nice":false,"zero":false},"axis":null}},
   "layer":[{"mark":{"type":"rule","color":"#00B0F6"},"encoding":{"y":{"field":"lo","type":"quantitative","axis":null},"y2":{"field":"hi"}}},{"mark":{"type":"tick","orient":"horizontal","size":101,"color":"#00B0F6"},"encoding":{"y":{"field":"lo","type":"quantitative","axis":null}}},{"mark":{"type":"tick","orient":"horizontal","size":101,"color":"#00B0F6"},"encoding":{"y":{"field":"hi","type":"quantitative","axis":null}}},{"mark":{"type":"circle","color":"#00B0F6"}}]},
  {"spacing":-1,"hconcat":[
   {"width":595,"height":500,"data":{"name":"auc"},"transform":[{"filter":"datum.m=='WPE'&&datum.D==6"}],
    "encoding":{"x":{"field":"tau","type":"quantitative","scale":{"domain":[0.305,5.695],"nice":false,"zero":false},"axis":{"values":[1,2,3,4,5],"format":"d","title":null}},"y":{"field":"auc","type":"quantitative","scale":{"domain":[-0.0486,1.0464],"nice":false,"zero":false},"axis":null}},
    "layer":[{"mark":{"type":"rule","color":"#E76BF3"},"encoding":{"y":{"field":"lo","type":"quantitative","axis":null},"y2":{"field":"hi"}}},{"mark":{"type":"tick","orient":"horizontal","size":101,"color":"#E76BF3"},"encoding":{"y":{"field":"lo","type":"quantitative","axis":null}}},{"mark":{"type":"tick","orient":"horizontal","size":101,"color":"#E76BF3"},"encoding":{"y":{"field":"hi","type":"quantitative","axis":null}}},{"mark":{"type":"circle","color":"#E76BF3"}}]},
   {"width":106,"height":500,"view":{"fill":"#D9D9D9","stroke":"#333333","strokeWidth":4.3},"data":{"values":[{"label":"D=6"}]},"mark":{"type":"text","angle":90},"encoding":{"text":{"field":"label"}}}
  ]}
]}
]
}
